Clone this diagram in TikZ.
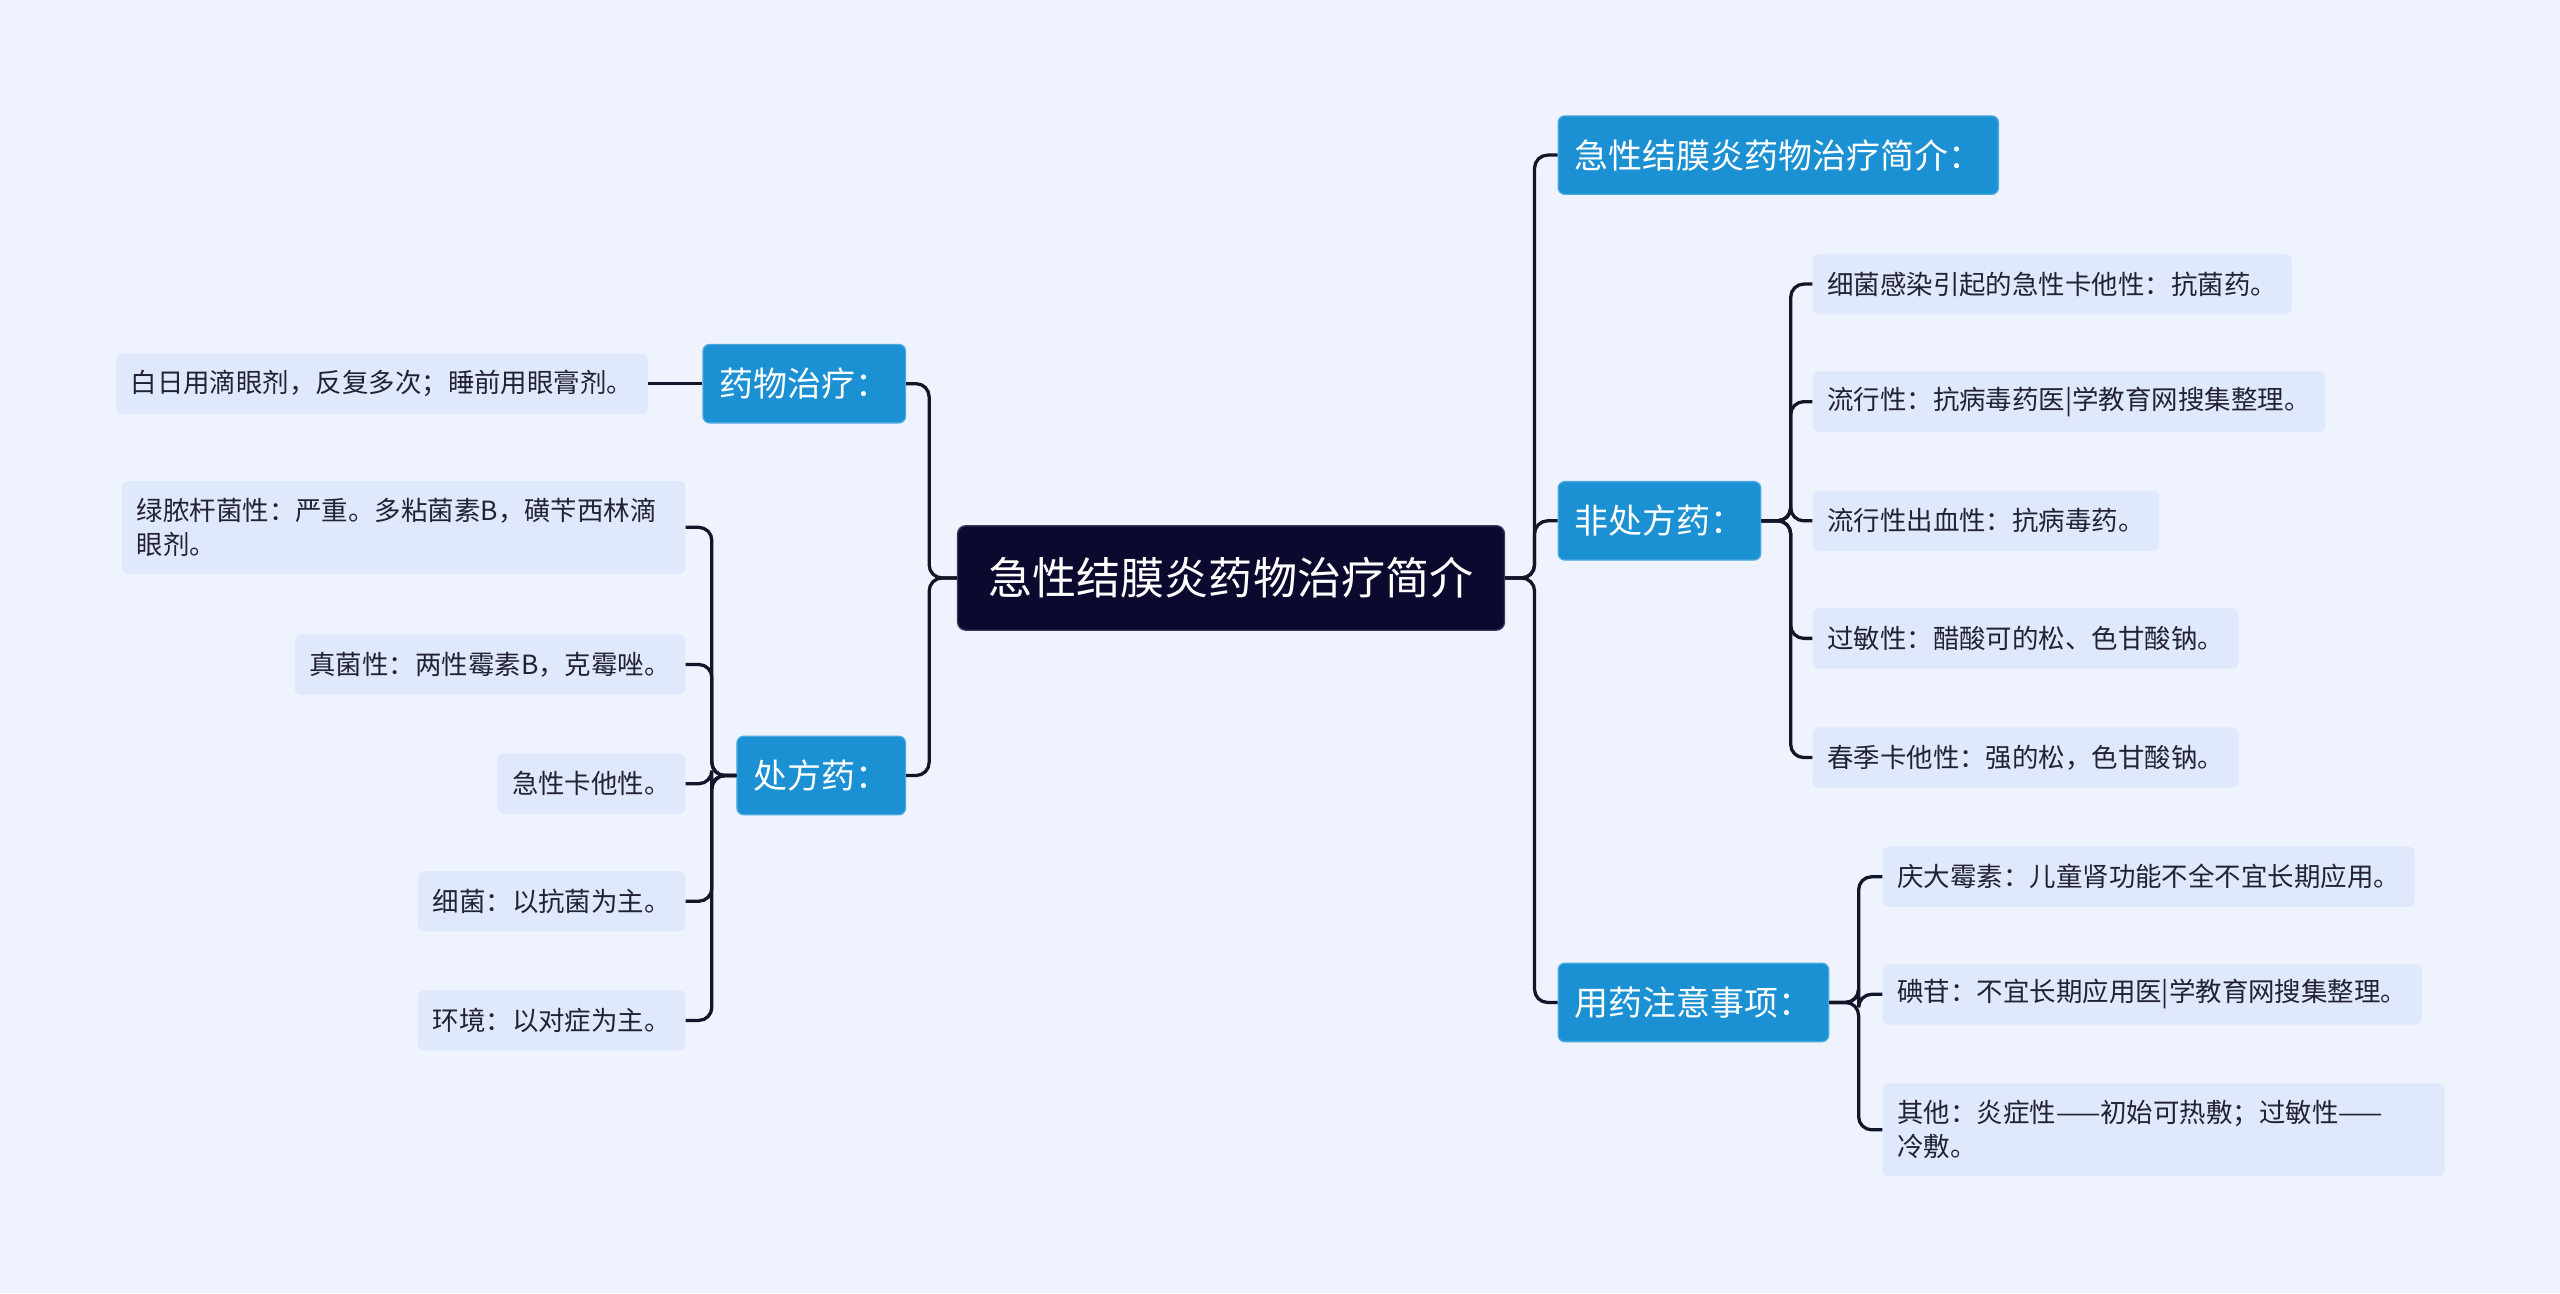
\documentclass[tikz,border=0pt]{standalone}
\usepackage{fontspec}
\setmainfont{Noto Sans CJK SC}
\begin{document}
\begin{tikzpicture}[x=1pt,y=-1pt,
 leaf/.style={fill=leafc,rounded corners=4pt,inner xsep=9pt,inner ysep=0pt,minimum height=37pt,text=txt,font=\fontsize{16.2}{21}\selectfont,align=left},
 branch/.style={fill=bluec,draw=blueb,line width=0.8pt,rounded corners=4pt,inner xsep=10pt,minimum height=48pt,text=white,font=\fontsize{20.8}{24}\selectfont},
 rootbox/.style={fill=rootc,draw=rootb,line width=0.8pt,rounded corners=5pt,inner xsep=14pt,minimum height=64pt,text=white,font=\fontsize{27}{30}\selectfont},
 conn/.style={draw=linec,line width=2pt,rounded corners=8pt}]
\definecolor{bg}{HTML}{EEF3FE}
\definecolor{leafc}{HTML}{E0E8FB}
\definecolor{bluec}{HTML}{1B90D3}
\definecolor{blueb}{HTML}{4AA8E0}
\definecolor{rootc}{HTML}{0B0A2E}
\definecolor{rootb}{HTML}{3A3A60}
\definecolor{linec}{HTML}{15152A}
\definecolor{txt}{HTML}{222233}
\fill[bg] (0,0) rectangle (1568,792);
\useasboundingbox (0,0) rectangle (1568,792);
\node[rootbox,minimum width=335pt] (root) at (754,354) {急性结膜炎药物治疗简介};
% right branches
\node[branch,anchor=west] (r1) at (954,95) {急性结膜炎药物治疗简介：};
\node[branch,anchor=west] (r2) at (954,319) {非处方药：};
\node[branch,anchor=west] (r3) at (954,614) {用药注意事项：};
% left branches
\node[branch,anchor=east] (l1) at (555,235) {药物治疗：};
\node[branch,anchor=east] (l2) at (555,475) {处方药：};
% leaves r2
\node[leaf,anchor=west] (a1) at (1110,174) {细菌感染引起的急性卡他性：抗菌药。};
\node[leaf,anchor=west] (a2) at (1110,246) {流行性：抗病毒药医|学教育网搜集整理。};
\node[leaf,anchor=west] (a3) at (1110,319) {流行性出血性：抗病毒药。};
\node[leaf,anchor=west] (a4) at (1110,391) {过敏性：醋酸可的松、色甘酸钠。};
\node[leaf,anchor=west] (a5) at (1110,464) {春季卡他性：强的松，色甘酸钠。};
% leaves r3
\node[leaf,anchor=west] (b1) at (1153,537) {庆大霉素：儿童肾功能不全不宜长期应用。};
\node[leaf,anchor=west] (b2) at (1153,609) {碘苷：不宜长期应用医|学教育网搜集整理。};
\node[leaf,anchor=west,minimum height=57pt,text width=326pt] (b3) at (1153,692) {其他：炎症性——初始可热敷；过敏性——\\冷敷。};
% left leaves
\node[leaf,anchor=east] (c1) at (397,235) {白日用滴眼剂，反复多次；睡前用眼膏剂。};
\node[leaf,anchor=east,minimum height=57pt,text width=327pt] (d1) at (420,323) {绿脓杆菌性：严重。多粘菌素B，磺苄西林滴\\眼剂。};
\node[leaf,anchor=east] (d2) at (420,407) {真菌性：两性霉素B，克霉唑。};
\node[leaf,anchor=east] (d3) at (420,480) {急性卡他性。};
\node[leaf,anchor=east] (d4) at (420,552) {细菌：以抗菌为主。};
\node[leaf,anchor=east] (d5) at (420,625) {环境：以对症为主。};
% connectors
\foreach \t in {r1,r2,r3} \draw[conn] (root.east) -- ++(18,0) |- (\t.west);
\foreach \t in {l1,l2} \draw[conn] (root.west) -- ++(-17,0) |- (\t.east);
\foreach \t in {a1,a2,a3,a4,a5} \draw[conn] (r2.east) -- ++(18,0) |- (\t.west);
\foreach \t in {b1,b2,b3} \draw[conn] (r3.east) -- ++(18,0) |- (\t.west);
\draw[conn] (l1.west) -- (c1.east);
\foreach \t in {d1,d2,d3,d4,d5} \draw[conn] (l2.west) -- ++(-15,0) |- (\t.east);
\end{tikzpicture}
\end{document}
